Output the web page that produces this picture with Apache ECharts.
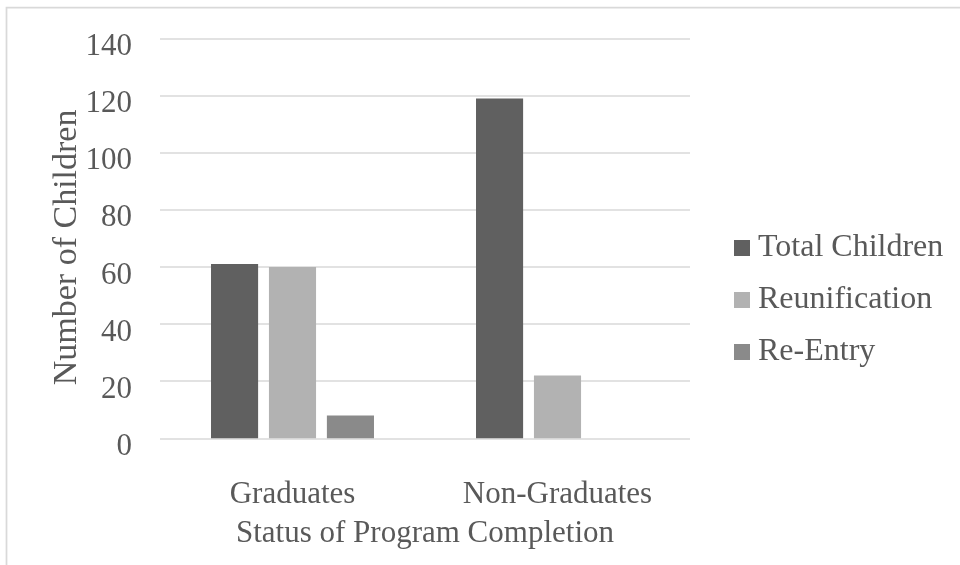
<!DOCTYPE html>
<html>
<head>
<meta charset="utf-8">
<script src="https://cdn.jsdelivr.net/npm/echarts@6/dist/echarts.min.js"></script>
<style>
  html, body { margin: 0; padding: 0; background: #fff; }
  #chart { width: 960px; height: 565px; }
</style>
</head>
<body>
<div id="chart"></div>
<script>
// Program completion status and outcomes
const categories = ['Graduates', 'Non-Graduates'];
const seriesNames = ['Total Children', 'Reunification', 'Re-Entry'];
const totalChildren = [61, 119];
const reunification = [60, 22];
const reEntry = [8, 0];
const yTicks = [0, 20, 40, 60, 80, 100, 120, 140];

const FONT = '"Liberation Serif", "Times New Roman", serif';
const TEXT = '#595959';
const colors = ['#606060', '#b2b2b2', '#8a8a8a'];
const values = [totalChildren, reunification, reEntry];

const chart = echarts.init(document.getElementById('chart'), null, { renderer: 'canvas' });

chart.setOption({
  animation: false,
  backgroundColor: '#ffffff',
  textStyle: { fontFamily: FONT, color: TEXT },
  graphic: [{
    type: 'rect',
    shape: { x: 6.5, y: 7.5, width: 1000, height: 1000 },
    style: { fill: 'none', stroke: '#d9d9d9', lineWidth: 1.75 },
    silent: true,
    z: -1
  }],
  grid: { left: 160, right: 270, top: 38.5, bottom: 126.7, containLabel: false },
  legend: {
    orient: 'vertical',
    left: 729,
    top: 222,
    itemWidth: 16,
    itemHeight: 16,
    itemGap: 10,
    icon: 'rect',
    data: seriesNames,
    textStyle: {
      fontFamily: FONT, fontSize: 32, color: TEXT,
      lineHeight: 36, padding: [6, 0, 0, 3]
    }
  },
  xAxis: {
    type: 'category',
    data: categories,
    name: 'Status of Program Completion',
    nameLocation: 'middle',
    nameGap: 80,
    nameMoveOverlap: false,
    nameTextStyle: { fontFamily: FONT, fontSize: 31, color: TEXT },
    axisLine: { show: false },
    axisTick: { show: false },
    axisLabel: { fontFamily: FONT, fontSize: 31, color: TEXT, margin: 41 }
  },
  yAxis: {
    type: 'value',
    min: yTicks[0],
    max: yTicks[yTicks.length - 1],
    interval: yTicks[1] - yTicks[0],
    name: 'Number of Children',
    nameLocation: 'middle',
    nameGap: 76,
    nameMoveOverlap: false,
    nameTextStyle: {
      fontFamily: FONT, fontSize: 34, color: TEXT,
      padding: [0, 18, 0, 0]
    },
    axisLine: { show: false },
    axisTick: { show: false },
    splitLine: { lineStyle: { color: '#d9d9d9', width: 1.6 } },
    axisLabel: {
      fontFamily: FONT, fontSize: 31, color: TEXT, margin: 28,
      verticalAlign: 'top', lineHeight: 17
    }
  },
  series: seriesNames.map((name, i) => ({
    name: name,
    type: 'bar',
    data: values[i],
    itemStyle: { color: colors[i] },
    barGap: '23%',
    barCategoryGap: '38.5%'
  }))
});
</script>
</body>
</html>
